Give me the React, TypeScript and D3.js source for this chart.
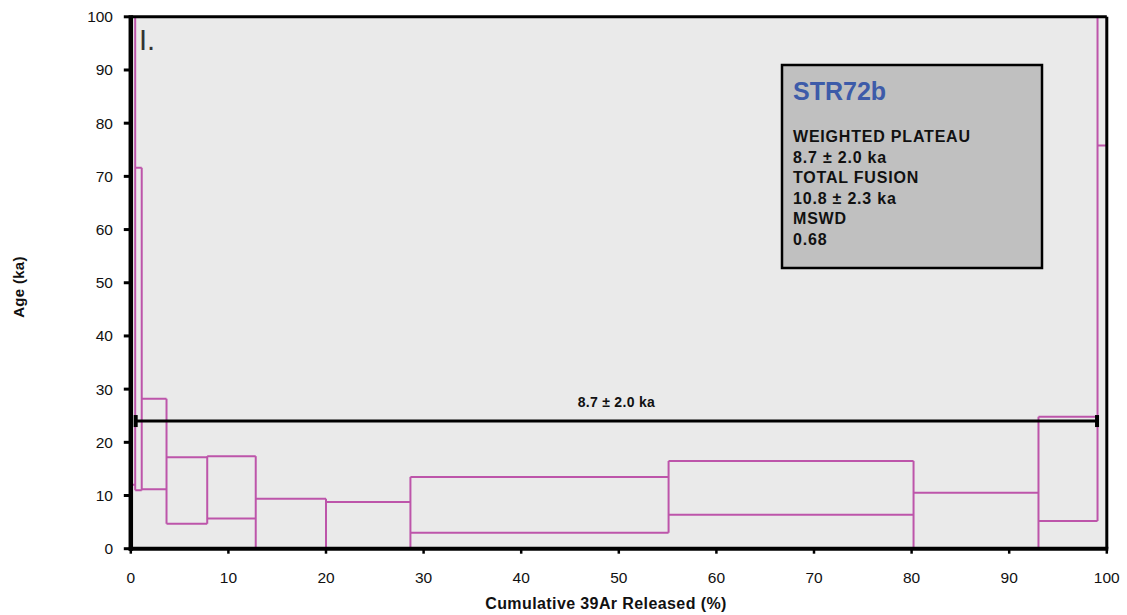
import React from "react";
import * as d3 from "d3";

// Step boundaries (cumulative 39Ar released, %)
const stepEdges: number[] = [0, 0.45, 1.12, 3.66, 7.83, 12.8, 20.0, 28.65, 55.1, 80.2, 93.0, 99.05, 100];
// Lower / upper age of each step (ka, 2 sigma box)
const stepLow: number[] = [12, 11.0, 11.2, 4.7, 5.7, -5, -5, 3.0, 6.4, -5, 5.2, 75.8];
const stepHigh: number[] = [150, 71.6, 28.2, 17.2, 17.4, 9.4, 8.8, 13.5, 16.5, 10.5, 24.8, 150];

const xTicks: number[] = [0, 10, 20, 30, 40, 50, 60, 70, 80, 90, 100];
const yTicks: number[] = [0, 10, 20, 30, 40, 50, 60, 70, 80, 90, 100];

const plateauStart = 0.5;
const plateauEnd = 99.0;
const plateauLevel = 24.0;
const plateauLabel = "8.7 ± 2.0 ka";

const sampleName = "STR72b";
const infoLines: string[] = [
  "WEIGHTED PLATEAU",
  "8.7 ± 2.0 ka",
  "TOTAL FUSION",
  "10.8 ± 2.3 ka",
  "MSWD",
  "0.68",
];

const panelLabel = "I.";
const xTitle = "Cumulative 39Ar Released (%)";
const yTitle = "Age (ka)";

const W = 1127;
const H = 615;
const PINK = "#BD55AA";
const FONT = "'Liberation Sans', Arial, Helvetica, sans-serif";

export default function App() {
  const x = d3.scaleLinear().domain([0, 100]).range([130.8, 1106.8]);
  const y = d3.scaleLinear().domain([0, 100]).range([548.7, 16.8]);
  const [x0, x1] = x.range();
  const [yb, yt] = y.range();

  const n = stepLow.length;
  const horizontals: { xa: number; xb: number; v: number }[] = [];
  for (let i = 0; i < n; i++) {
    horizontals.push({ xa: stepEdges[i], xb: stepEdges[i + 1], v: stepLow[i] });
    horizontals.push({ xa: stepEdges[i], xb: stepEdges[i + 1], v: stepHigh[i] });
  }
  const verticals: { xv: number; lo: number; hi: number }[] = [];
  for (let i = 0; i <= n; i++) {
    const los: number[] = [];
    const his: number[] = [];
    if (i > 0) { los.push(stepLow[i - 1]); his.push(stepHigh[i - 1]); }
    if (i < n) { los.push(stepLow[i]); his.push(stepHigh[i]); }
    verticals.push({ xv: stepEdges[i], lo: d3.min(los)!, hi: d3.max(his)! });
  }

  const boxX = 782, boxY = 65, boxW = 260, boxH = 203;

  return (
    <svg width={W} height={H} style={{ position: "absolute", left: 0, top: 0, background: "#fff" }} fontFamily={FONT}>
      <defs>
        <clipPath id="plotClip">
          <rect x={x0} y={yt} width={x1 - x0} height={yb - yt} />
        </clipPath>
      </defs>
      {/* plot background */}
      <rect x={x0} y={yt} width={x1 - x0} height={yb - yt} fill="#EAEAEA" />

      {/* info box */}
      <rect x={boxX} y={boxY} width={boxW} height={boxH} fill="#C0C0C0" stroke="#000" strokeWidth={2.5} />
      <text x={793} y={100} fill="#3D5BA9" fontWeight="bold" fontSize={25}>{sampleName}</text>
      {infoLines.map((t, i) => (
        <text key={i} x={793} y={142 + i * 20.6} fontWeight="bold" fontSize={16} letterSpacing={0.8} fill="#111">{t}</text>
      ))}

      {/* steps */}
      <g clipPath="url(#plotClip)" stroke={PINK} strokeWidth={2} fill="none">
        {horizontals.map((h, i) => (
          <line key={"h" + i} x1={x(h.xa)} x2={x(h.xb)} y1={y(h.v)} y2={y(h.v)} />
        ))}
        {verticals.map((v, i) => (
          <line key={"v" + i} x1={x(v.xv)} x2={x(v.xv)} y1={y(v.lo)} y2={y(v.hi)} />
        ))}
      </g>

      {/* plateau bar */}
      <line x1={x(plateauStart)} x2={x(plateauEnd)} y1={y(plateauLevel)} y2={y(plateauLevel)} stroke="#000" strokeWidth={3} />
      <rect x={x(plateauStart) - 2} y={y(plateauLevel) - 6} width={4} height={12} fill="#000" />
      <rect x={x(plateauEnd) - 2} y={y(plateauLevel) - 6} width={4} height={12} fill="#000" />
      <text x={x((plateauStart + plateauEnd) / 2)} y={407} textAnchor="middle" fontWeight="bold" fontSize={14} letterSpacing={0.3} fill="#111">{plateauLabel}</text>

      {/* frame */}
      <line x1={x0} x2={x1} y1={yt} y2={yt} stroke="#000" strokeWidth={3} />
      <line x1={x1} x2={x1} y1={yt} y2={yb} stroke="#000" strokeWidth={3} />
      <line x1={x0} x2={x0} y1={yt - 1.5} y2={yb + 2} stroke="#000" strokeWidth={4.5} />
      <line x1={x0 - 2} x2={x1 + 1.5} y1={yb} y2={yb} stroke="#000" strokeWidth={4} />

      {/* y ticks */}
      {yTicks.map((t) => (
        <g key={"yt" + t}>
          <line x1={x0 - 7} x2={x0} y1={y(t)} y2={y(t)} stroke="#000" strokeWidth={3} />
          <text x={113} y={y(t) + 5.5} textAnchor="end" fontSize={15.5} fill="#111">{t}</text>
        </g>
      ))}
      {/* x ticks */}
      {xTicks.map((t) => (
        <g key={"xt" + t}>
          <line x1={x(t)} x2={x(t)} y1={yb} y2={yb + 5} stroke="#000" strokeWidth={2.5} />
          <text x={x(t)} y={583} textAnchor="middle" fontSize={15.5} fill="#111">{t}</text>
        </g>
      ))}

      {/* panel label */}
      <text x={139} y={50} fontSize={29} fill="#333" fontWeight={300}>{panelLabel}</text>

      {/* axis titles */}
      <text x={606} y={609} textAnchor="middle" fontWeight="bold" fontSize={16} letterSpacing={0.4} fill="#111">{xTitle}</text>
      <text transform={`translate(24, ${287}) rotate(-90)`} textAnchor="middle" fontWeight="bold" fontSize={15} letterSpacing={0.3} fill="#111">{yTitle}</text>
    </svg>
  );
}
